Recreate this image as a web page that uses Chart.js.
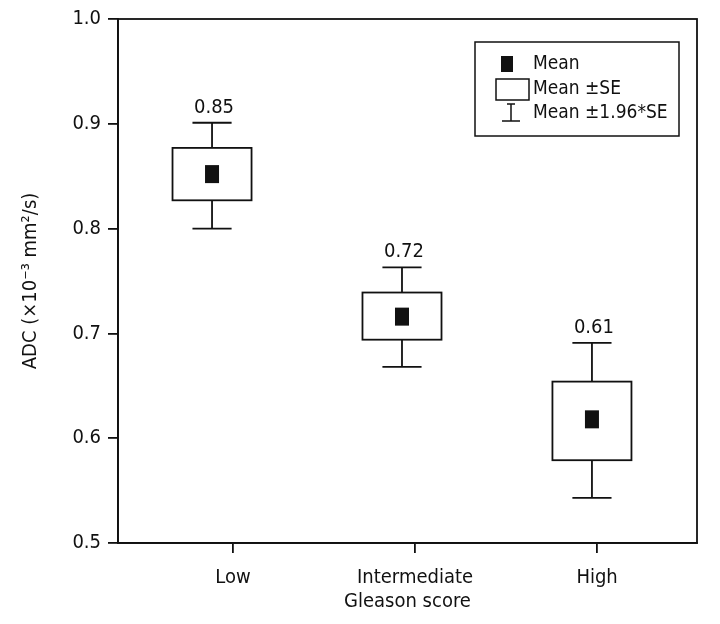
<!DOCTYPE html>
<html>
<head>
<meta charset="utf-8">
<title>ADC by Gleason score</title>
<script src="https://cdn.jsdelivr.net/npm/chart.js@4.4.1/dist/chart.umd.min.js"></script>
<style>
  html, body { margin: 0; padding: 0; background: #fff; }
</style>
</head>
<body>
<canvas id="chart" width="720" height="624"></canvas>
<script>
// data
var categories = ['Low', 'Intermediate', 'High'];
var means      = [0.852, 0.716, 0.618];
var seLower    = [0.827, 0.694, 0.579];
var seUpper    = [0.877, 0.739, 0.654];
var ciLower    = [0.800, 0.668, 0.543];
var ciUpper    = [0.901, 0.763, 0.691];
var meanLabels = ['0.85', '0.72', '0.61'];
var yTicks     = [0.5, 0.6, 0.7, 0.8, 0.9, 1.0];
var legendLabels = ['Mean', 'Mean \u00b1SE', 'Mean \u00b11.96*SE'];

var FONT = '"Liberation Sans Narrow", "DejaVu Sans Condensed", Arial, sans-serif';
var INK = '#111';
var FS = 20;

Chart.defaults.font.family = FONT;
Chart.defaults.color = INK;

// box / whisker / mean marker drawn from the scales
var boxPlugin = {
    id: 'seBoxes',
    afterDatasetsDraw: function (chart) {
        var c = chart.ctx;
        var xs = chart.scales.x, ys = chart.scales.y;
        var area = chart.chartArea;
        c.save();
        c.strokeStyle = INK;
        c.fillStyle = INK;
        c.lineWidth = 1.8;

        categories.forEach(function (cat, i) {
            var pos = i + 1;
            var cx = xs.getPixelForValue(pos);
            var bl = xs.getPixelForValue(pos - 0.208), br = xs.getPixelForValue(pos + 0.208);
            var cl = xs.getPixelForValue(pos - 0.103), cr = xs.getPixelForValue(pos + 0.103);
            var yTop = ys.getPixelForValue(ciUpper[i]);
            var yBot = ys.getPixelForValue(ciLower[i]);
            var bTop = ys.getPixelForValue(seUpper[i]);
            var bBot = ys.getPixelForValue(seLower[i]);
            var ym = ys.getPixelForValue(means[i]);

            c.beginPath();
            // whiskers
            c.moveTo(cx, yTop); c.lineTo(cx, bTop);
            c.moveTo(cx, bBot); c.lineTo(cx, yBot);
            c.moveTo(cl, yTop); c.lineTo(cr, yTop);
            c.moveTo(cl, yBot); c.lineTo(cr, yBot);
            c.stroke();
            // SE box
            c.strokeRect(bl, bTop, br - bl, bBot - bTop);
            // mean marker
            c.fillRect(cx - 7, ym - 9, 14, 18);
            // value label
            c.font = FS + 'px ' + FONT;
            c.textAlign = 'center';
            c.textBaseline = 'alphabetic';
            c.fillText(meanLabels[i], cx + 2, yTop - 10);
        });

        // frame (top and right sides)
        c.lineWidth = 1.8;
        c.strokeRect(area.left, area.top, area.right - area.left, area.bottom - area.top);

        // legend
        var lx = area.right - 222, ly = area.top + 23, lw = 204, lh = 94;
        c.lineWidth = 1.5;
        c.strokeRect(lx, ly, lw, lh);
        var tx = lx + 58;
        var rows = [ly + 22, ly + 47, ly + 71];
        c.fillRect(lx + 26, rows[0] - 8, 12, 16);
        c.strokeRect(lx + 21, rows[1] - 10, 33, 21);
        var wx = lx + 36;
        c.beginPath();
        c.moveTo(wx - 4, rows[2] - 9); c.lineTo(wx + 4, rows[2] - 9);
        c.moveTo(wx, rows[2] - 9); c.lineTo(wx, rows[2] + 8);
        c.moveTo(wx - 9, rows[2] + 8); c.lineTo(wx + 9, rows[2] + 8);
        c.stroke();
        c.font = '19px ' + FONT;
        c.textAlign = 'left';
        c.textBaseline = 'middle';
        legendLabels.forEach(function (t, k) {
            c.fillText(t, tx, rows[k]);
        });
        c.restore();
    }
};

var ctx = document.getElementById('chart').getContext('2d');
new Chart(ctx, {
    type: 'scatter',
    data: {
        datasets: [{
            label: 'Mean',
            data: means.map(function (m, i) { return { x: i + 1, y: m }; }),
            pointRadius: 0,
            xAxisID: 'x',
            yAxisID: 'y'
        }]
    },
    options: {
        responsive: false,
        animation: false,
        layout: { padding: { top: 17, right: 23, left: 0, bottom: 0 } },
        plugins: { legend: { display: false }, tooltip: { enabled: false } },
        scales: {
            x: { type: 'linear', display: false, min: 0.505, max: 3.553 },
            xLab: {
                type: 'linear',
                position: 'bottom',
                min: 0.368,
                max: 3.549,
                afterBuildTicks: function (s) {
                    s.ticks = categories.map(function (c, i) { return { value: i + 1 }; });
                },
                afterFit: function (s) { s.height = 81; },
                ticks: {
                    callback: function (v, i) { return categories[i]; },
                    font: { size: FS },
                    color: INK,
                    padding: 13,
                    maxRotation: 0
                },
                grid: { drawOnChartArea: false, tickLength: 10, color: INK, lineWidth: 1.8 },
                border: { display: true, color: INK, width: 1.8 },
                title: { display: true, text: 'Gleason score', font: { size: FS }, color: INK, padding: { top: 10, bottom: 10 } }
            },
            y: {
                min: 0.5,
                max: 1.0,
                afterBuildTicks: function (s) {
                    s.ticks = yTicks.map(function (v) { return { value: v }; });
                },
                afterFit: function (s) { s.width = 118; },
                ticks: {
                    callback: function (v) { return v.toFixed(1); },
                    font: { size: FS },
                    color: INK,
                    padding: 7
                },
                grid: { drawOnChartArea: false, tickLength: 10, color: INK, lineWidth: 1.8 },
                border: { display: true, color: INK, width: 1.8 },
                title: { display: true, text: 'ADC (\u00d710\u207b\u00b3 mm\u00b2/s)', font: { size: FS }, color: INK, padding: { top: 19, bottom: 19 } }
            }
        }
    },
    plugins: [boxPlugin]
});
</script>
</body>
</html>
